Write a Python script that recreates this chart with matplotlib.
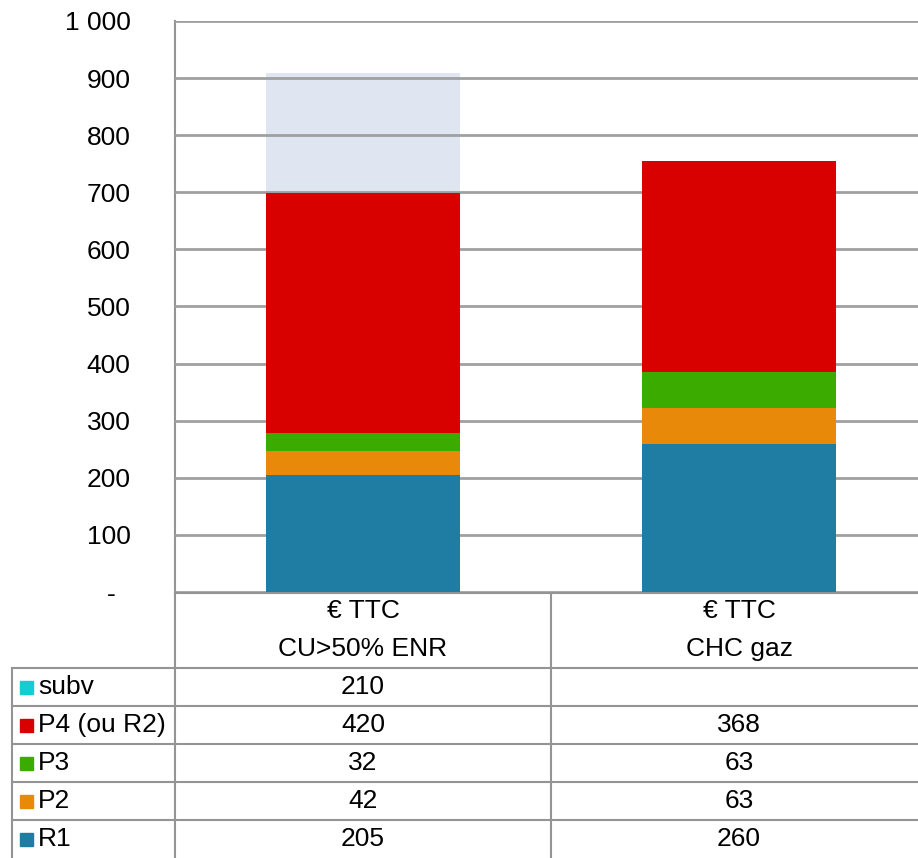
import matplotlib.pyplot as plt

plt.rcParams['font.family'] = ['Liberation Sans', 'DejaVu Sans']

categories = ["€ TTC\nCU>50% ENR", "€ TTC\nCHC gaz"]
series = ["R1", "P2", "P3", "P4 (ou R2)", "subv"]
R1 = [205, 260]
P2 = [42, 63]
P3 = [32, 63]
P4 = [420, 368]
subv = [210, None]
values = [R1, P2, P3, P4, subv]
yticks = [0, 100, 200, 300, 400, 500, 600, 700, 800, 900, 1000]
ytick_labels = ["-  ", "100", "200", "300", "400", "500", "600", "700", "800", "900", "1 000"]

bar_colors = {'R1': '#1f7ca3', 'P2': '#e8890a', 'P3': '#3cab00',
              'P4 (ou R2)': '#d90000', 'subv': '#dfe6f1'}
key_colors = dict(bar_colors, subv='#14cdd2')
grid_col = '#a0a0a0'
line_col = '#949494'
fs = 19

W, H = 918, 858
fig = plt.figure(figsize=(W / 100, H / 100), dpi=100)

# chart area in pixel terms (right side runs a little past the image edge)
x0, x1, ytop, ybot = 175, 927, 21, 592
ax = fig.add_axes([x0 / W, 1 - ybot / H, (x1 - x0) / W, (ybot - ytop) / H])
ax.set_xlim(0, len(categories))
ax.set_ylim(0, 1000)

xs = [i + 0.5 for i in range(len(categories))]
bottom = [0, 0]
for name, vals in zip(series, values):
    v = [x if x is not None else 0 for x in vals]
    z = 1 if name == 'subv' else 3
    ax.bar(xs, v, width=0.515, bottom=bottom, color=bar_colors[name], zorder=z)
    bottom = [b + x for b, x in zip(bottom, v)]

ax.set_yticks(yticks)
ax.set_yticklabels(ytick_labels, fontsize=fs)
ax.tick_params(axis='y', length=0, pad=32)
ax.set_xticks([])
ax.yaxis.grid(True, color=grid_col, linewidth=2, zorder=2)
ax.set_axisbelow(False)
for s in ['top', 'right', 'bottom']:
    ax.spines[s].set_visible(False)
ax.spines['left'].set_color(line_col)
ax.spines['left'].set_linewidth(1.5)
ax.spines['left'].set_zorder(0.5)

# data table below the chart
tb = fig.add_axes([0, 0, 1, (H - ybot) / H])
tb.set_xlim(0, W)
tb.set_ylim(H, ybot)
tb.axis('off')

col_edges = [12, 175, 551, 927]
head_bot = 668
row_h = (H - head_bot) / len(series)
lw = 1.5

tb.plot([175, 918], [ybot + 1, ybot + 1], color=line_col, lw=lw)
tb.plot([12, 918], [head_bot, head_bot], color=line_col, lw=lw)
tb.plot([175, 175], [ybot, H], color=line_col, lw=lw)
tb.plot([551, 551], [ybot, H], color=line_col, lw=lw)
tb.plot([12, 12], [head_bot, H], color=line_col, lw=lw)

for j, cat in enumerate(categories):
    cx = (col_edges[j + 1] + col_edges[j + 2]) / 2
    top, sub = cat.split("\n")
    tb.text(cx, 611, top, ha='center', va='center', fontsize=fs)
    tb.text(cx, 649, sub, ha='center', va='center', fontsize=fs)

for i, name in enumerate(reversed(series)):
    y_top = head_bot + i * row_h
    yc = y_top + row_h / 2
    if i > 0:
        tb.plot([12, 918], [y_top, y_top], color=line_col, lw=lw)
    tb.add_patch(plt.Rectangle((20, yc - 6.5), 13, 13, color=key_colors[name]))
    tb.text(38, yc, name, ha='left', va='center', fontsize=fs)
    vals = values[series.index(name)]
    for j, v in enumerate(vals):
        if v is None:
            continue
        cx = (col_edges[j + 1] + col_edges[j + 2]) / 2
        tb.text(cx, yc, str(v), ha='center', va='center', fontsize=fs)

fig.savefig('out.png', dpi=100)
